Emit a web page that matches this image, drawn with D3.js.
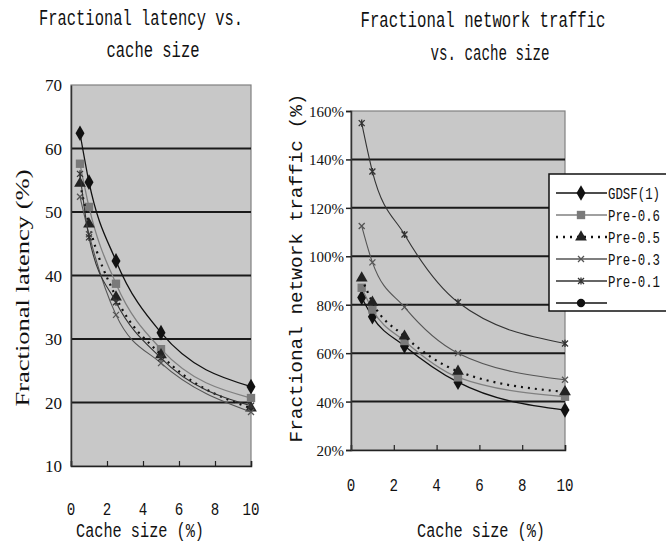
<!DOCTYPE html>
<html>
<head>
<meta charset="utf-8">
<style>
    body { margin: 0; background: #fff; }
    text { font-family: "Liberation Mono", "DejaVu Sans Mono", monospace; fill: #111; }
    .serif { font-family: "Liberation Serif", "DejaVu Serif", serif; }
</style>
</head>
<body>
<svg id="chart"></svg>
<script src="https://cdn.jsdelivr.net/npm/d3@7"></script>
<script>
    // data
    let cacheSizes = [0.5, 1, 2.5, 5, 10]
    let seriesNames = ["GDSF(1)", "Pre-0.6", "Pre-0.5", "Pre-0.3", "Pre-0.1", ""]

    let latencyGDSF = [62.4, 54.7, 42.3, 31.0, 22.5]
    let latencyPre06 = [57.6, 50.8, 38.7, 28.4, 20.7]
    let latencyPre05 = [54.5, 48.1, 36.6, 27.5, 19.1]
    let latencyPre03 = [52.4, 46.5, 33.8, 26.2, 18.5]
    let latencyPre01 = [56.0, 46.0, 35.8, 27.0, 19.5]

    let trafficGDSF = [83, 75, 63, 48, 36.5]
    let trafficPre06 = [87, 78, 65, 50, 42]
    let trafficPre05 = [91, 81, 67, 52.5, 44]
    let trafficPre03 = [112.5, 97.5, 79, 60, 49]
    let trafficPre01 = [155, 135, 109, 81, 64]

    let xTicks = [0, 2, 4, 6, 8, 10]
    let latencyTicks = [10, 20, 30, 40, 50, 60, 70]
    let trafficTicks = [20, 40, 60, 80, 100, 120, 140, 160]

    let width = 666, height = 544
    let svg = d3.select("#chart").attr("width", width).attr("height", height)

    // custom marker shapes
    let xShape = {
        draw(ctx, size) {
            let r = Math.sqrt(size) / 2
            ctx.moveTo(-r, -r); ctx.lineTo(r, r)
            ctx.moveTo(-r, r); ctx.lineTo(r, -r)
        }
    }
    let starShape = {
        draw(ctx, size) {
            let r = Math.sqrt(size) / 2
            ctx.moveTo(-r, -r); ctx.lineTo(r, r)
            ctx.moveTo(-r, r); ctx.lineTo(r, -r)
            ctx.moveTo(0, -r * 1.2); ctx.lineTo(0, r * 1.2)
        }
    }
    let ovalShape = {
        draw(ctx, size) {
            let r = Math.sqrt(size) / 2
            ctx.moveTo(r, 0)
            ctx.arc(0, 0, r, 0, Math.PI * 2)
        }
    }

    let styles = [
        { color: "#111", dash: null, width: 1.3, shape: d3.symbolDiamond, size: 70, fill: "#111" },
        { color: "#808080", dash: null, width: 1.3, shape: d3.symbolSquare, size: 70, fill: "#7a7a7a" },
        { color: "#111", dash: "2,5", width: 2.2, shape: d3.symbolTriangle, size: 60, fill: "#222" },
        { color: "#555", dash: null, width: 1.1, shape: xShape, size: 36, fill: "none" },
        { color: "#333", dash: null, width: 1.1, shape: starShape, size: 36, fill: "none" },
        { color: "#111", dash: null, width: 1.3, shape: ovalShape, size: 70, fill: "#111" }
    ]

    function drawPanel(opts) {
        let x = d3.scaleLinear().domain([0, 10]).range(opts.xRange)
        let y = d3.scaleLinear().domain(opts.yDomain).range(opts.yRange)
        let g = svg.append("g")

        g.append("rect")
            .attr("x", x(0)).attr("y", y(opts.yDomain[1]))
            .attr("width", x(10) - x(0)).attr("height", y(opts.yDomain[0]) - y(opts.yDomain[1]))
            .attr("fill", "#c8c8c8").attr("stroke", "#808080").attr("stroke-width", 1.2)

        // grid
        g.selectAll(".grid").data(opts.yTicks.slice(1, -1)).enter().append("line")
            .attr("x1", x(0)).attr("x2", x(10))
            .attr("y1", d => y(d)).attr("y2", d => y(d))
            .attr("stroke", "#1a1a1a").attr("stroke-width", 2)

        // bottom axis, ticks pointing inward
        let xAxis = g.append("g").attr("transform", `translate(0,${y(opts.yDomain[0])})`)
            .call(d3.axisBottom(x).tickValues(xTicks).tickSize(-5).tickFormat(""))
        xAxis.select(".domain").attr("stroke", "#222").attr("stroke-width", 1.5)
        xAxis.selectAll(".tick line").attr("stroke", "#222").attr("stroke-width", 1.2)

        g.selectAll(".xlab").data(xTicks).enter().append("text")
            .attr("x", d => x(d)).attr("y", opts.xLabelY)
            .attr("text-anchor", "middle").attr("font-size", 18)
            .attr("textLength", d => String(d).length * 8.5).attr("lengthAdjust", "spacingAndGlyphs")
            .text(d => d)

        // left axis
        let yAxis = g.append("g").attr("transform", `translate(${x(0)},0)`)
            .call(d3.axisLeft(y).tickValues(opts.yTicks).tickSize(opts.yTickSize).tickFormat(""))
        yAxis.select(".domain").attr("stroke", "#333").attr("stroke-width", 1.5)
        yAxis.selectAll(".tick line").attr("stroke", "#222").attr("stroke-width", 1.5)

        g.selectAll(".ylab").data(opts.yTicks).enter().append("text")
            .attr("class", "serif")
            .attr("x", opts.yLabelX).attr("y", d => y(d) + 6)
            .attr("text-anchor", "end").attr("font-size", opts.yFont)
            .text(opts.yFormat)

        let line = d3.line()
            .x((d, i) => x(cacheSizes[i]))
            .y(d => y(d))
            .curve(d3.curveMonotoneX)

        opts.series.forEach((vals, k) => {
            let s = styles[k]
            g.append("path").datum(vals)
                .attr("d", line).attr("fill", "none")
                .attr("stroke", s.color).attr("stroke-width", s.width)
                .attr("stroke-dasharray", s.dash)
            g.selectAll(null).data(vals).enter().append("path")
                .attr("transform", (d, i) => `translate(${x(cacheSizes[i])},${y(d)})`)
                .attr("d", d3.symbol().type(s.shape).size(s.size))
                .attr("fill", s.fill)
                .attr("stroke", s.fill === "none" ? s.color : "none")
                .attr("stroke-width", 1.3)
        })
    }

    drawPanel({
        xRange: [71, 251], yDomain: [10, 70], yRange: [466, 85],
        yTicks: latencyTicks, yTickSize: 0, yLabelX: 62, yFont: 17,
        yFormat: d => d, xLabelY: 515,
        series: [latencyGDSF, latencyPre06, latencyPre05, latencyPre03, latencyPre01]
    })

    drawPanel({
        xRange: [351, 565], yDomain: [20, 160], yRange: [450, 111],
        yTicks: trafficTicks, yTickSize: 5, yLabelX: 344, yFont: 15,
        yFormat: d => d + "%", xLabelY: 491,
        series: [trafficGDSF, trafficPre06, trafficPre05, trafficPre03, trafficPre01]
    })

    // legend
    let legend = svg.append("g")
    legend.append("rect")
        .attr("x", 549).attr("y", 174).attr("width", 130).attr("height", 137)
        .attr("fill", "#fff").attr("stroke", "#111").attr("stroke-width", 1.5)
    let rows = legend.selectAll(".row").data(seriesNames).enter().append("g")
        .attr("transform", (d, i) => `translate(0,${193 + i * 22})`)
    rows.append("line")
        .attr("x1", 556).attr("x2", 607)
        .attr("stroke", (d, i) => styles[i].color)
        .attr("stroke-width", (d, i) => styles[i].width + 0.3)
        .attr("stroke-dasharray", (d, i) => styles[i].dash)
    rows.append("path")
        .attr("transform", "translate(581,0)")
        .attr("d", (d, i) => d3.symbol().type(styles[i].shape).size(styles[i].size)())
        .attr("fill", (d, i) => styles[i].fill)
        .attr("stroke", (d, i) => styles[i].fill === "none" ? styles[i].color : "none")
        .attr("stroke-width", 1.3)
    rows.filter(d => d !== "").append("text")
        .attr("x", 608).attr("y", 6)
        .attr("font-size", 17)
        .attr("textLength", 52).attr("lengthAdjust", "spacingAndGlyphs")
        .text(d => d)

    // titles and axis titles
    function label(txt, x, y, size, len, rot) {
        let t = svg.append("text")
            .attr("text-anchor", "middle").attr("font-size", size)
            .attr("textLength", len).attr("lengthAdjust", "spacingAndGlyphs")
            .text(txt)
        if (rot) t.attr("transform", `translate(${x},${y}) rotate(-90)`)
        else t.attr("x", x).attr("y", y)
        return t
    }
    label("Fractional  latency vs.", 141, 25, 22, 204)
    label("cache size", 153, 57, 22, 93)
    label("Fractional network traffic", 483, 27, 22, 245)
    label("vs. cache size", 490, 60, 22, 119)
    label("Cache size (%)", 140, 537, 20, 128)
    label("Cache size (%)", 481, 537, 20, 128)
    label("Fractional network traffic (%)", 302, 268, 19, 349, true)
    label("Fractional latency (%)", 29, 288, 19, 237, true).attr("class", "serif")
</script>
</body>
</html>
